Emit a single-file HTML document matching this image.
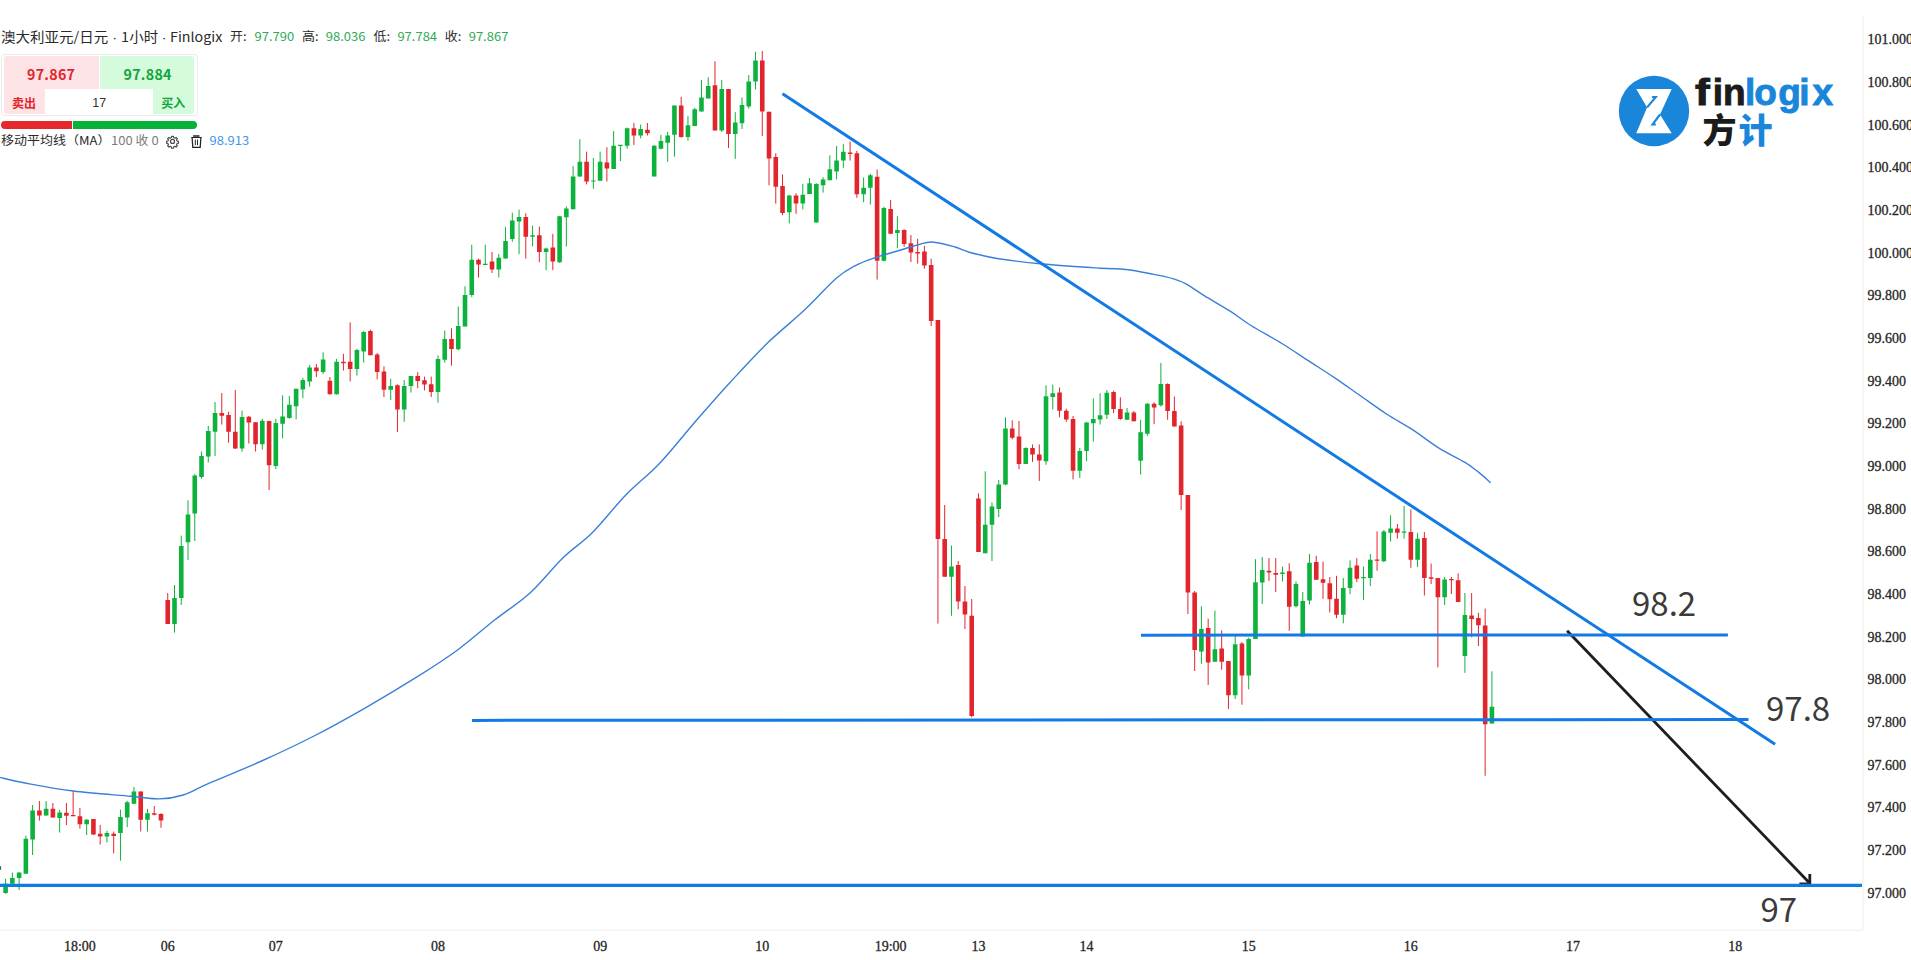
<!DOCTYPE html>
<html><head><meta charset="utf-8"><title>AUD/JPY chart</title>
<style>
html,body{margin:0;padding:0;background:#fff;}
body{width:1911px;height:960px;overflow:hidden;position:relative;font-family:'Noto Sans CJK SC', sans-serif;}
.a{position:absolute;white-space:nowrap;}
.dt{font-family:'Liberation Sans',sans-serif;}
.sq{transform:scaleY(0.92);transform-origin:0 50%;}
.title{left:1px;top:26px;font-size:14.5px;color:#2a2a2a;line-height:20px;}
.ohlc{top:26px;font-size:13px;line-height:20px;}
.lab{color:#2a2a2a;}
.val{color:#2eaa55;}
.panel{left:1px;top:54px;width:195px;height:60px;border:1px solid #ececec;border-radius:4px;}
.sellbg{left:3.5px;top:56px;width:95px;height:58px;background:#fde3e5;border-radius:3px 0 0 3px;}
.buybg{left:99.5px;top:56px;width:94px;height:58px;background:#d5fbdd;border-radius:0 3px 3px 0;}
.inp{left:44.5px;top:89px;width:108.5px;height:25px;background:#fff;}
.big{font-weight:700;font-size:14.2px;line-height:18px;top:65px;letter-spacing:0.3px;}
.small{font-weight:700;font-size:12px;line-height:16px;top:94.5px;}
.bar{top:120.8px;height:8px;}
.legend{top:131px;font-size:13px;line-height:18px;}
</style></head><body>
<svg width="1911" height="960" viewBox="0 0 1911 960" style="position:absolute;left:0;top:0"><path d="M5.6 878.8V893.8M12.36 872.5V884.4M19.11 872.5V890M25.87 835.6V873.8M32.62 805V855M46.14 801V815.6M59.65 810V832.5M86.67 819V835M106.94 830.8V842.4M120.45 809.6V860.7M127.21 800.8V827.1M133.96 787V803.8M147.48 808.9V831.5M174.5 585V632.6M181.26 535.7V605M188.01 500.3V560M194.77 474V541M201.52 451.5V478.5M208.28 426V462.4M215.04 402V456M242.06 410.6V451.8M262.33 418.7V449.7M275.84 418.7V469M282.6 395.3V438.4M289.35 396V418.7M296.11 388.8V419.4M302.86 377.8V398.3M309.62 365V386.6M323.13 352.3V374M336.64 358.9V394.6M356.91 348.7V375.6M363.67 331V362.5M390.69 378.8V400M404.2 380V421.8M410.96 375.9V392.6M437.98 355.4V402.8M444.74 330.6V362.7M458.25 306.6V350.3M465.01 286.3V326.4M471.76 244.7V297.2M485.28 244.7V265M498.79 254V277.5M505.54 227.2V258.6M512.3 212.6V241.8M519.06 209.7V254.2M532.57 225.7V246.2M546.08 247.6V270.2M559.59 215.8V262.9M566.35 206.3V246.4M573.1 166.2V209.2M579.86 139.2V177.1M593.37 158V188.8M600.13 151.6V180.7M613.64 131.2V169M620.4 145V161M627.15 127.5V148.7M640.66 124.6V138.4M654.18 145V176.4M660.93 134.8V149.4M667.69 131.9V161.8M674.44 105.6V156.7M687.96 115.9V140.7M694.71 107.8V126M701.47 80.1V111.5M708.22 77.2V98.4M721.74 80.1V131.9M735.25 112.2V158.9M742 97.6V129M748.76 75V108.6M755.52 51.7V89.6M789.3 194.8V223.3M802.81 183.9V209.4M809.56 178V194M816.32 183.2V222.5M823.08 177.3V192.6M829.83 155.4V180.2M836.59 146V179.5M843.34 143.8V167.8M863.61 177.5V202.3M870.37 173.9V204.5M883.88 206.7V261.4M897.39 216.2V248.3M951.44 545.5V615.8M985.22 471.3V553.3M991.98 502.5V561M998.73 480V517M1005.49 417.4V485.2M1025.76 447.3V464.1M1046.02 385.3V464.8M1052.78 384.6V409.4M1079.8 448V478M1086.56 421.8V461.2M1093.32 398.4V441.5M1100.07 393.3V424.5M1106.83 390V419M1127.1 408.1V419.8M1140.61 419.8V474.5M1147.36 403V435.9M1160.88 362.9V406.7M1201.41 606.3V663.9M1214.92 610.6V661.7M1235.19 636V699M1248.7 637.6V689.4M1255.46 559.2V639M1262.22 557V604M1282.48 566.7V581.6M1296 581.6V607.3M1302.75 591.9V636.6M1309.51 554V604.5M1343.29 578V623.4M1350.04 560.4V594.2M1363.56 566.4V600M1370.31 554V586M1383.82 530V562M1390.58 515.3V541.6M1404.09 505.8V538.7M1417.6 532.8V567M1444.63 577V605M1464.9 593V672.8M1491.92 671.3V723.6" stroke="#0cb23c" stroke-width="1" fill="none"/><path d="M39.38 801V820.6M52.89 803V817.5M66.4 803V825M73.16 790.6V816.2M79.92 808V828.6M93.43 819V835M100.18 825V844.6M113.7 831.5V853.4M140.72 791.4V831.5M154.23 806V815.4M160.99 813.2V827.8M167.74 593V624M221.79 393V424.5M228.55 411.8V442.7M235.3 390V449M248.82 416V443.5M255.57 422V451.5M269.08 420.8V490M316.38 364V377M329.89 377V394.6M343.4 353.8V370.5M350.16 322.4V381.5M370.42 329.7V355.2M377.18 353V379.3M383.94 366.4V397M397.45 384.3V432M417.72 372.2V388.3M424.47 376.6V390.4M431.23 376.6V397M451.5 328.4V365.6M478.52 258.6V277.5M492.03 252V273M525.81 213.3V258.6M539.32 226.5V262.2M552.84 233.8V270.2M586.62 151.6V184.4M606.88 147.2V181.5M633.91 123V145M647.42 123V135.5M681.2 96.9V137.7M714.98 61.2V130.4M728.49 88.9V148M762.27 51V136M769.03 111.7V185.3M775.78 153.2V203.6M782.54 174.4V215.2M796.05 193.4V213.8M850.1 141.6V160.5M856.86 151V197.8M877.12 169.5V279.6M890.64 200V233.7M904.15 229.3V246.8M910.9 235.1V262.1M917.66 238.8V263.6M924.42 246V268.7M931.17 258.7V326M937.93 320V623.6M944.68 505V576.8M958.2 561V609.3M964.95 586V629M971.71 599V717.4M978.46 493.4V552M1012.24 420.3V439.3M1019 421V469.2M1032.51 444.4V461.9M1039.27 444.4V480.9M1059.54 387.5V417.4M1066.29 408.7V421.8M1073.05 416V479.4M1113.58 390.6V413.2M1120.34 397.2V419.8M1133.85 411V421.3M1154.12 402.3V424.2M1167.63 383.3V419.8M1174.39 396.5V426.4M1181.14 421.3V510M1187.9 495V614M1194.66 591V671M1208.17 618.7V685M1221.68 630.3V669.7M1228.44 661V709M1241.95 642V704.7M1268.97 558V581M1275.73 558V591.9M1289.24 563.2V630.8M1316.26 555.8V579.8M1323.02 561.5V598.8M1329.78 577V612.5M1336.53 575.8V618.2M1356.8 558.2V582.2M1377.07 531.4V570.8M1397.34 524V538.7M1410.85 509.5V567.8M1424.36 532V595.5M1431.12 563.5V584M1437.87 578V667.4M1451.38 577V594M1458.14 573.5V602M1471.65 593V637.3M1478.41 612.8V646M1485.16 608.6V775.8" stroke="#e1252d" stroke-width="1" fill="none"/><path d="M3.3 883.8h4.6V893.1h-4.6zM10.06 878h4.6V883.8h-4.6zM16.81 872.5h4.6V878h-4.6zM23.57 838.8h4.6V873.8h-4.6zM30.32 810.6h4.6V839.4h-4.6zM43.84 808.8h4.6V815.6h-4.6zM57.35 812.5h4.6V818h-4.6zM84.37 819.8h4.6V824.2h-4.6zM104.64 833h4.6V836.6h-4.6zM118.15 816.9h4.6V833h-4.6zM124.91 802.3h4.6V817.6h-4.6zM131.66 791.4h4.6V803.8h-4.6zM145.18 813.2h4.6V819.8h-4.6zM172.2 598h4.6V624h-4.6zM178.96 546h4.6V598h-4.6zM185.71 514.6h4.6V542.3h-4.6zM192.47 475.5h4.6V513.5h-4.6zM199.22 456h4.6V477h-4.6zM205.98 431h4.6V456.6h-4.6zM212.74 413h4.6V431.8h-4.6zM239.76 417h4.6V448.6h-4.6zM260.03 420.8h4.6V444.2h-4.6zM273.54 423h4.6V466h-4.6zM280.3 416.5h4.6V423.8h-4.6zM287.05 404.8h4.6V418h-4.6zM293.81 388.8h4.6V406.3h-4.6zM300.56 380h4.6V389.5h-4.6zM307.32 367.6h4.6V381.5h-4.6zM320.83 359.6h4.6V372h-4.6zM334.34 361.8h4.6V394.3h-4.6zM354.61 350h4.6V369h-4.6zM361.37 331.9h4.6V351.6h-4.6zM388.39 386h4.6V389.7h-4.6zM401.9 386h4.6V409.4h-4.6zM408.66 375.9h4.6V386h-4.6zM435.68 359h4.6V392h-4.6zM442.44 339h4.6V359.8h-4.6zM455.95 326h4.6V349.3h-4.6zM462.71 295h4.6V326.4h-4.6zM469.46 259.7h4.6V295h-4.6zM482.98 263.7h4.6V265h-4.6zM496.49 257.8h4.6V269.5h-4.6zM503.24 241h4.6V258.6h-4.6zM510 220.6h4.6V238.9h-4.6zM516.76 217h4.6V221.4h-4.6zM530.27 235.2h4.6V236.7h-4.6zM543.78 248.4h4.6V252h-4.6zM557.29 216.3h4.6V262.2h-4.6zM564.05 208.5h4.6V217.2h-4.6zM570.8 176.4h4.6V209.2h-4.6zM577.56 161.8h4.6V176.4h-4.6zM591.07 180.4h4.6V181.6h-4.6zM597.83 161.8h4.6V180.7h-4.6zM611.34 145.7h4.6V169h-4.6zM618.1 144.75h4.6V145.95h-4.6zM624.85 128.2h4.6V145.7h-4.6zM638.36 129h4.6V135.5h-4.6zM651.88 145.7h4.6V176.4h-4.6zM658.63 141h4.6V148.7h-4.6zM665.39 135.5h4.6V142.8h-4.6zM672.14 105.6h4.6V134.8h-4.6zM685.66 125.3h4.6V137h-4.6zM692.41 109.3h4.6V126h-4.6zM699.17 97.6h4.6V111.5h-4.6zM705.92 86h4.6V98.4h-4.6zM719.44 88.9h4.6V130.4h-4.6zM732.95 122.4h4.6V134.1h-4.6zM739.7 104.9h4.6V123.2h-4.6zM746.46 81.6h4.6V106.4h-4.6zM753.22 60.4h4.6V81.6h-4.6zM787 195.6h4.6V212.3h-4.6zM800.51 194.8h4.6V203.6h-4.6zM807.26 183.2h4.6V194h-4.6zM814.02 183.9h4.6V222.5h-4.6zM820.78 179.5h4.6V185.3h-4.6zM827.53 169.3h4.6V180.2h-4.6zM834.29 160.5h4.6V171.5h-4.6zM841.04 151.8h4.6V160.5h-4.6zM861.31 187.7h4.6V194.3h-4.6zM868.07 175.3h4.6V187.7h-4.6zM881.58 208.1h4.6V260.7h-4.6zM895.09 230h4.6V233h-4.6zM949.14 566.4h4.6V576.8h-4.6zM982.92 524.7h4.6V553.3h-4.6zM989.68 506.5h4.6V524.7h-4.6zM996.43 484.5h4.6V509h-4.6zM1003.19 428.4h4.6V484.5h-4.6zM1023.46 448h4.6V464.1h-4.6zM1043.72 396.3h4.6V461.2h-4.6zM1050.48 393.3h4.6V397h-4.6zM1077.5 451h4.6V470.7h-4.6zM1084.26 422.5h4.6V451h-4.6zM1091.02 418.9h4.6V423.2h-4.6zM1097.77 415.2h4.6V419.5h-4.6zM1104.53 392.8h4.6V414.7h-4.6zM1124.8 412.5h4.6V419.8h-4.6zM1138.31 432.2h4.6V460.7h-4.6zM1145.06 403.8h4.6V433.7h-4.6zM1158.58 384h4.6V405.2h-4.6zM1199.11 628.9h4.6V651.5h-4.6zM1212.62 649.3h4.6V661.7h-4.6zM1232.89 644.2h4.6V695.2h-4.6zM1246.4 639h4.6V675.6h-4.6zM1253.16 582.2h4.6V639h-4.6zM1259.92 570h4.6V582.5h-4.6zM1280.18 572.4h4.6V574.1h-4.6zM1293.7 583.9h4.6V606.2h-4.6zM1300.45 601h4.6V636.6h-4.6zM1307.21 562.7h4.6V600.5h-4.6zM1340.99 587.9h4.6V614.8h-4.6zM1347.74 567.8h4.6V587.9h-4.6zM1361.26 577.05h4.6V578.25h-4.6zM1368.01 559.8h4.6V578h-4.6zM1381.52 531.4h4.6V561.3h-4.6zM1388.28 528.4h4.6V532.8h-4.6zM1401.79 531.5h4.6V532.7h-4.6zM1415.3 538.7h4.6V559.8h-4.6zM1442.33 579.5h4.6V597.3h-4.6zM1462.6 614.9h4.6V656h-4.6zM1489.62 706.8h4.6V723.6h-4.6z" fill="#0cb23c"/><path d="M37.08 810.6h4.6V815.6h-4.6zM50.59 808.8h4.6V817.5h-4.6zM64.1 812.8h4.6V815.7h-4.6zM70.86 815h4.6V816.2h-4.6zM77.62 816.2h4.6V824.2h-4.6zM91.13 819h4.6V834.4h-4.6zM97.88 833.7h4.6V836.6h-4.6zM111.4 833.7h4.6V835.9h-4.6zM138.42 791.4h4.6V819.8h-4.6zM151.93 813.2h4.6V814.7h-4.6zM158.69 814h4.6V820.5h-4.6zM165.44 600h4.6V624h-4.6zM219.49 413h4.6V415.7h-4.6zM226.25 415h4.6V431.8h-4.6zM233 431.8h4.6V448.6h-4.6zM246.52 416.8h4.6V422.6h-4.6zM253.27 422.3h4.6V444.2h-4.6zM266.78 421h4.6V465.3h-4.6zM314.08 367.6h4.6V371.3h-4.6zM327.59 380.8h4.6V394.3h-4.6zM341.1 361.8h4.6V363.2h-4.6zM347.86 361.8h4.6V369h-4.6zM368.12 331h4.6V355.2h-4.6zM374.88 354.5h4.6V372h-4.6zM381.64 371.5h4.6V389.7h-4.6zM395.15 385.3h4.6V409.4h-4.6zM415.42 375.9h4.6V381h-4.6zM422.17 380.2h4.6V384.6h-4.6zM428.93 384.3h4.6V392h-4.6zM449.2 339h4.6V348.9h-4.6zM476.22 259.7h4.6V264.4h-4.6zM489.73 261.5h4.6V269.5h-4.6zM523.51 217h4.6V236.7h-4.6zM537.02 235.2h4.6V252h-4.6zM550.54 247.6h4.6V261.5h-4.6zM584.32 161.8h4.6V181.5h-4.6zM604.58 162.5h4.6V168.4h-4.6zM631.61 128.2h4.6V135.5h-4.6zM645.12 129.7h4.6V133.3h-4.6zM678.9 105.6h4.6V137h-4.6zM712.68 85.2h4.6V130.4h-4.6zM726.19 88.9h4.6V134.1h-4.6zM759.97 60.4h4.6V111.6h-4.6zM766.73 111.7h4.6V158.4h-4.6zM773.48 156.9h4.6V186.8h-4.6zM780.24 186h4.6V213h-4.6zM793.75 195.6h4.6V203.6h-4.6zM847.8 152.5h4.6V154h-4.6zM854.56 153.2h4.6V194.2h-4.6zM874.82 176.8h4.6V260.7h-4.6zM888.34 208.9h4.6V233.7h-4.6zM901.85 230h4.6V243.9h-4.6zM908.6 243.2h4.6V252.6h-4.6zM915.36 251.9h4.6V253.4h-4.6zM922.12 251.5h4.6V265.5h-4.6zM928.87 265h4.6V321h-4.6zM935.63 320h4.6V539h-4.6zM942.38 539h4.6V576.8h-4.6zM955.9 565h4.6V601.5h-4.6zM962.65 601.5h4.6V614.5h-4.6zM969.41 615.8h4.6V716h-4.6zM976.16 498.6h4.6V552h-4.6zM1009.94 428.4h4.6V437.8h-4.6zM1016.7 436.4h4.6V464.1h-4.6zM1030.21 448h4.6V454.6h-4.6zM1036.97 454.6h4.6V460.4h-4.6zM1057.24 392.6h4.6V410.8h-4.6zM1063.99 410.8h4.6V419.6h-4.6zM1070.75 418.9h4.6V470.7h-4.6zM1111.28 392h4.6V408.9h-4.6zM1118.04 408.9h4.6V419h-4.6zM1131.55 412.5h4.6V421.3h-4.6zM1151.82 403.8h4.6V407.4h-4.6zM1165.33 384h4.6V411h-4.6zM1172.09 411h4.6V426.4h-4.6zM1178.84 425.6h4.6V495h-4.6zM1185.6 495h4.6V592.4h-4.6zM1192.36 592.4h4.6V650h-4.6zM1205.87 628h4.6V662.4h-4.6zM1219.38 648.6h4.6V661.7h-4.6zM1226.14 661h4.6V695.2h-4.6zM1239.65 643.5h4.6V675.6h-4.6zM1266.67 570.7h4.6V572.4h-4.6zM1273.43 573h4.6V574.7h-4.6zM1286.94 571.3h4.6V606.8h-4.6zM1313.96 562h4.6V579.8h-4.6zM1320.72 579.3h4.6V582.7h-4.6zM1327.48 583.3h4.6V599.3h-4.6zM1334.23 598.8h4.6V614.8h-4.6zM1354.5 565.5h4.6V578.7h-4.6zM1374.77 559.55h4.6V560.75h-4.6zM1395.04 528.4h4.6V532.8h-4.6zM1408.55 532h4.6V559.8h-4.6zM1422.06 538h4.6V578h-4.6zM1428.82 577.3h4.6V578.8h-4.6zM1435.57 578h4.6V597.3h-4.6zM1449.08 579h4.6V580.2h-4.6zM1455.84 580.3h4.6V602h-4.6zM1469.35 615.4h4.6V619h-4.6zM1476.11 618h4.6V625.3h-4.6zM1482.86 625.5h4.6V724.2h-4.6z" fill="#e1252d"/><rect x="-3.5" y="866.3" width="4.6" height="3.5" fill="#2e6a44"/><path d="M0 777.4C4.37 778.37 13.98 780.93 26.2 783.2C38.42 785.47 55.87 788.83 73.3 791C90.73 793.17 116.42 794.88 130.8 796.2C145.18 797.52 150.87 799.1 159.6 798.9C168.33 798.7 174.92 797.62 183.2 795C191.48 792.38 196.23 788.87 209.3 783.2C222.37 777.53 244.15 768.87 261.6 761C279.05 753.13 296.55 744.95 314 736C331.45 727.05 348.87 717.32 366.3 707.3C383.73 697.28 403.33 685.5 418.6 675.9C433.87 666.3 445.23 659.02 457.9 649.7C470.57 640.38 482.58 629.45 494.6 620C506.62 610.55 518.55 603.42 530 593C541.45 582.58 552.88 567.58 563.3 557.5C573.72 547.42 582.08 542.92 592.5 532.5C602.92 522.08 614.68 506.46 625.8 495C636.92 483.54 647.38 476.25 659.2 463.75C671.02 451.25 684.9 433.54 696.7 420C708.5 406.46 718.2 395.33 730 382.5C741.8 369.67 755 355.15 767.5 343C780 330.85 793.54 320.38 805 309.6C816.46 298.82 827.92 285.6 836.25 278.3C844.58 271 848.41 269.27 855 265.8C861.59 262.33 868.85 259.93 875.8 257.5C882.75 255.07 889.75 253.33 896.7 251.25C903.65 249.17 911.62 246.54 917.5 245C923.38 243.46 925.75 241.67 932 242C938.25 242.33 948.78 245.3 955 247C961.22 248.7 962.03 250.25 969.3 252.2C976.57 254.15 986.38 256.73 998.6 258.7C1010.82 260.67 1025.7 262.42 1042.6 264C1059.5 265.58 1086.1 267.28 1100 268.2C1113.9 269.12 1117.33 268.53 1126 269.5C1134.67 270.47 1144.18 272.48 1152 274C1159.82 275.52 1167.23 276.95 1172.9 278.6C1178.57 280.25 1180.78 281.07 1186 283.9C1191.22 286.73 1196.83 291.05 1204.2 295.6C1211.57 300.15 1222.4 306.22 1230.2 311.2C1238 316.18 1242.32 320.07 1251 325.5C1259.68 330.93 1272.75 337.88 1282.3 343.75C1291.85 349.62 1299.62 355.06 1308.3 360.7C1316.98 366.34 1325.72 371.75 1334.4 377.6C1343.08 383.45 1351.72 389.73 1360.4 395.8C1369.08 401.87 1377.82 408.35 1386.5 414C1395.18 419.65 1403.83 424.05 1412.5 429.7C1421.17 435.35 1429.82 442.48 1438.5 447.9C1447.18 453.32 1458.08 458.28 1464.6 462.2C1471.12 466.12 1473.27 468 1477.6 471.4C1481.93 474.8 1488.43 480.73 1490.6 482.6" fill="none" stroke="#3a80d8" stroke-width="1.4"/><g stroke="#1e1e1e" stroke-width="2.8" fill="none" stroke-linecap="butt"><line x1="1567.1" y1="630.8" x2="1808.8" y2="882.3"/><polyline points="1809.8,874.1 1809.8,884 1799.4,884"/></g><line x1="0" y1="885.3" x2="1862" y2="885.3" stroke="#127ae4" stroke-width="3.2"/><line x1="472" y1="720.4" x2="1748.5" y2="719.5" stroke="#127ae4" stroke-width="3"/><line x1="1141" y1="635.15" x2="1727.9" y2="634.95" stroke="#127ae4" stroke-width="3"/><line x1="782.5" y1="93.75" x2="1775.1" y2="744.3" stroke="#127ae4" stroke-width="3"/><line x1="1863" y1="16" x2="1863" y2="930" stroke="#f3f3f3" stroke-width="1.4"/><line x1="0" y1="930.3" x2="1863" y2="930.3" stroke="#f3f3f3" stroke-width="1.4"/><g font-family="Liberation Serif, serif" font-size="14" fill="#262626" stroke="#262626" stroke-width="0.3"><text x="1867.5" y="44.3">101.000</text><text x="1867.5" y="86.96">100.800</text><text x="1867.5" y="129.62">100.600</text><text x="1867.5" y="172.28">100.400</text><text x="1867.5" y="214.94">100.200</text><text x="1867.5" y="257.6">100.000</text><text x="1867.5" y="300.26">99.800</text><text x="1867.5" y="342.92">99.600</text><text x="1867.5" y="385.58">99.400</text><text x="1867.5" y="428.24">99.200</text><text x="1867.5" y="470.9">99.000</text><text x="1867.5" y="513.56">98.800</text><text x="1867.5" y="556.22">98.600</text><text x="1867.5" y="598.88">98.400</text><text x="1867.5" y="641.54">98.200</text><text x="1867.5" y="684.2">98.000</text><text x="1867.5" y="726.86">97.800</text><text x="1867.5" y="769.52">97.600</text><text x="1867.5" y="812.18">97.400</text><text x="1867.5" y="854.84">97.200</text><text x="1867.5" y="897.5">97.000</text></g><g font-family="Liberation Serif, serif" font-size="14" fill="#262626" stroke="#262626" stroke-width="0.3" text-anchor="middle"><text x="79.92" y="951">18:00</text><text x="167.74" y="951">06</text><text x="275.84" y="951">07</text><text x="437.98" y="951">08</text><text x="600.13" y="951">09</text><text x="762.27" y="951">10</text><text x="890.64" y="951">19:00</text><text x="978.46" y="951">13</text><text x="1086.56" y="951">14</text><text x="1248.7" y="951">15</text><text x="1410.85" y="951">16</text><text x="1572.99" y="951">17</text><text x="1735.14" y="951">18</text></g><g font-family="Noto Sans CJK SC, sans-serif" font-size="33" fill="#3b3b3b"><text x="1632" y="616">98.2</text><text x="1766" y="721">97.8</text><text x="1760.5" y="922">97</text></g><g>
<circle cx="1654" cy="111" r="35.2" fill="#1a86da"/>
<polygon points="1636.25,89.1 1671.7,89.1 1660,114.5 1671.7,133.25 1636.25,133.25 1647.1,107.4" fill="#fff"/>
<polyline points="1652.1,97 1655.8,97 1647.1,107.4" fill="none" stroke="#1a86da" stroke-width="2.1"/>
<polyline points="1660,114.5 1652.5,124.5 1655.8,124.5" fill="none" stroke="#1a86da" stroke-width="2.1"/>
</g></svg>
<div class="a title sq">澳大利亚元/日元<span class="dt"> · </span>1小时<span class="dt" style="letter-spacing:-0.35px"> · </span><span style="font-size:14.3px">Finlogix</span></div>
<div class="a sq ohlc" style="left:230px"><span class="lab">开:</span></div>
<div class="a sq ohlc val" style="left:254.5px">97.790</div>
<div class="a sq ohlc" style="left:302px"><span class="lab">高:</span></div>
<div class="a sq ohlc val" style="left:325.8px">98.036</div>
<div class="a sq ohlc" style="left:373.5px"><span class="lab">低:</span></div>
<div class="a sq ohlc val" style="left:397.4px">97.784</div>
<div class="a sq ohlc" style="left:444.8px"><span class="lab">收:</span></div>
<div class="a sq ohlc val" style="left:468.7px">97.867</div>

<div class="a panel"></div>
<div class="a sellbg"></div>
<div class="a buybg"></div>
<div class="a inp"></div>
<div class="a big" style="left:27px;color:#e1252d">97.867</div>
<div class="a big" style="left:123.5px;color:#12a53c">97.884</div>
<div class="a small" style="left:12px;color:#e1252d">卖出</div>
<div class="a small" style="left:161.3px;color:#12a53c">买入</div>
<div class="a" style="left:92.3px;top:95px;font-size:12.5px;line-height:16px;color:#333;font-family:'Liberation Sans',sans-serif">17</div>
<div class="a bar" style="left:1.25px;width:70.75px;background:#e5282d;border-radius:4px 0 0 4px"></div>
<div class="a bar" style="left:72.9px;width:123.8px;background:#06b33a;border-radius:0 4px 4px 0"></div>

<div class="a sq legend" style="left:1px;color:#2a2a2a">移动平均线（MA）</div>
<div class="a sq legend" style="left:111px;color:#7b7b7b">100 收 0</div>
<svg class="a" style="left:166px;top:134px" width="14" height="15" viewBox="0 0 14 15"><g transform="translate(6.5,7.4) scale(0.88) translate(-7,-7)" fill="none" stroke="#4a4a4a" stroke-width="1.35"><circle cx="7" cy="7" r="2.3"/><path d="M6 1.2h2l.4 1.6 1.3.6 1.4-.9 1.4 1.4-.9 1.4.6 1.3 1.6.4v2l-1.6.4-.6 1.3.9 1.4-1.4 1.4-1.4-.9-1.3.6-.4 1.6h-2l-.4-1.6-1.3-.6-1.4.9-1.4-1.4.9-1.4-.6-1.3-1.6-.4v-2l1.6-.4.6-1.3-.9-1.4 1.4-1.4 1.4.9 1.3-.6z" stroke-linejoin="round"/></g></svg>
<svg class="a" style="left:190px;top:134px" width="13" height="15" viewBox="0 0 13 15"><g fill="none" stroke="#222"><path d="M3.6 2H9" stroke-width="1.4" stroke-linecap="round"/><path d="M1.3 3.5H11.6" stroke-width="1"/><path d="M2.1 3.5L2.8 13.3H10.2L10.9 3.5" stroke-width="1.25"/><path d="M5.3 5.6V11.2M7.5 5.6V11.2" stroke-width="1"/></g></svg>
<div class="a sq legend" style="left:209.5px;color:#3d95e8">98.913</div>

<div class="a" style="left:1695px;top:67.7px;font-family:'Liberation Sans',sans-serif;font-weight:700;font-size:37px;line-height:50px;letter-spacing:0"><span style="color:#1b1b1b;-webkit-text-stroke:0.9px #1b1b1b"><span style="letter-spacing:5.35px;display:inline-block;transform:scaleX(1.2);transform-origin:0 0">f</span><span style="letter-spacing:-0.05px">i</span><span style="letter-spacing:-0.55px">n</span></span><span style="color:#1a86da;-webkit-text-stroke:0.9px #1a86da"><span style="letter-spacing:-0.95px">l</span><span style="letter-spacing:1.2px">o</span><span style="letter-spacing:-1.4px">g</span><span style="letter-spacing:2.9px">i</span>x</span></div>
<div class="a" style="left:1702.5px;top:104.5px;font-family:'Noto Sans CJK SC', sans-serif;font-weight:900;font-size:34px;line-height:48px;"><span style="color:#1b1b1b">方</span><span style="color:#1a86da;margin-left:2px">计</span></div>
</body></html>
